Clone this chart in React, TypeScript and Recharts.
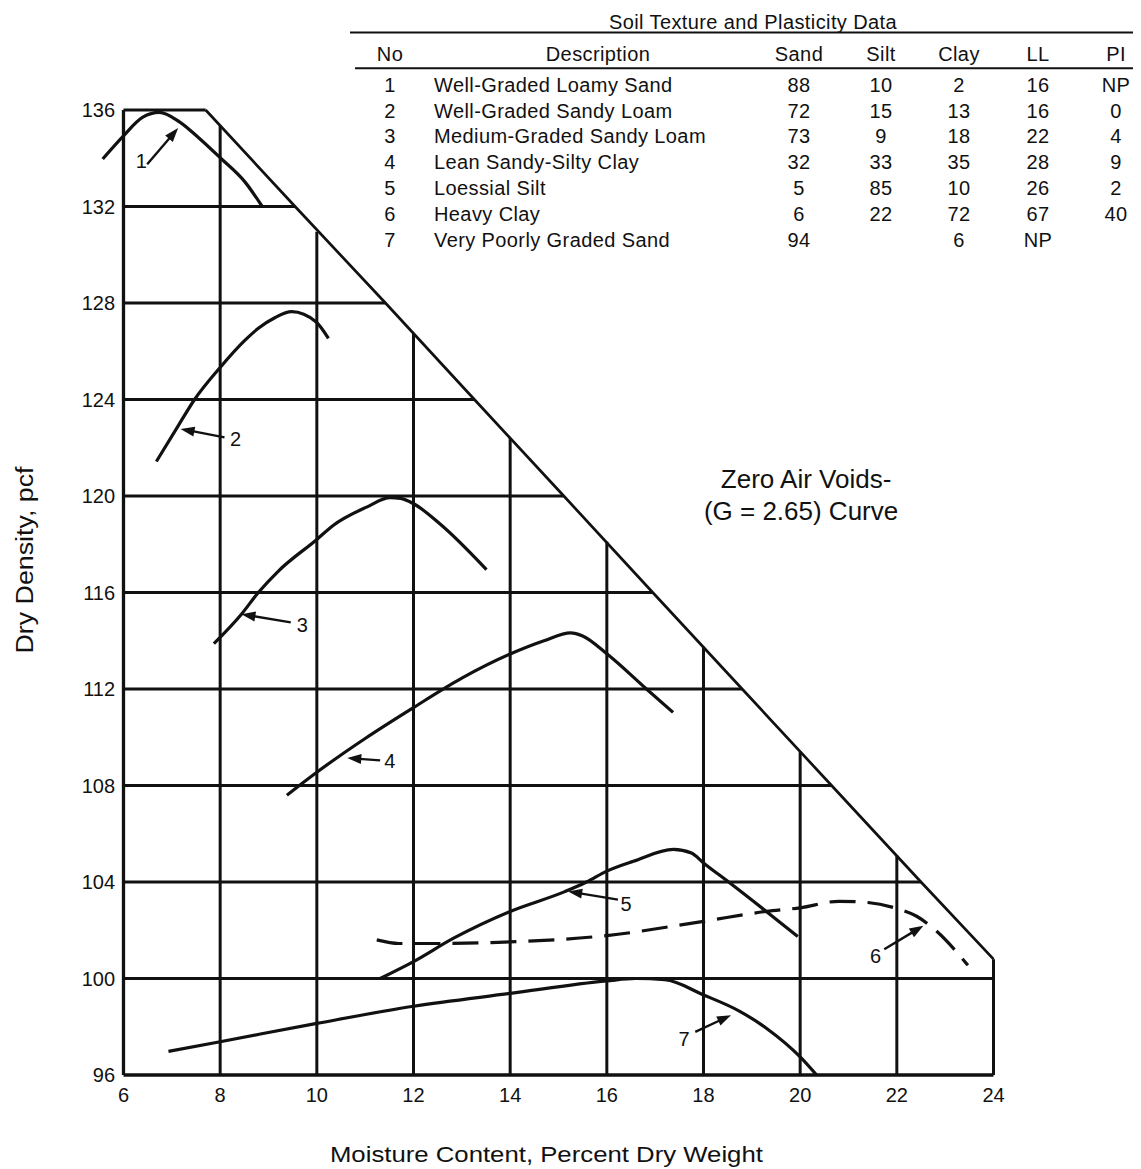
import React from 'react';
import { LineChart, Line, XAxis, YAxis, ReferenceLine, ReferenceDot } from 'recharts';

const FONT = '"Liberation Sans", Arial, Helvetica, sans-serif';
const INK = '#111111';

// ---- axes ----
const moistureTicks = [6, 8, 10, 12, 14, 16, 18, 20, 22, 24];
const densityTicks = [96, 100, 104, 108, 112, 116, 120, 124, 128, 132, 136];

// ---- grid (truncated at the zero-air-voids line) ----
const hGridLevels = [136, 132, 128, 124, 120, 116, 112, 108, 104, 100, 96];
const hGridEnds = [7.7, 9.55, 11.42, 13.26, 15.11, 16.95, 18.8, 20.65, 22.5, 24, 24];
const vGridLevels = [6, 8, 10, 12, 14, 16, 18, 20, 22, 24];
const vGridTops = [136, 135.35, 130.95, 126.75, 122.4, 118.1, 113.75, 109.4, 105.1, 100.8];

// ---- zero air voids line ----
const zavMoisture = [7.7, 9.55, 11.42, 13.26, 15.11, 16.95, 18.8, 20.65, 22.5, 24];
const zavDensity = [136, 132, 128, 124, 120, 116, 112, 108, 104, 100.8];

// ---- compaction curves ----
const c1Moisture = [5.57, 6.0, 6.4, 6.74, 7.15, 7.56, 8.0, 8.52, 8.87];
const c1Density = [133.97, 134.93, 135.7, 135.9, 135.52, 134.84, 134.02, 133.0, 132.0];
const c2Moisture = [6.68, 7.15, 7.47, 8.0, 8.51, 8.79, 9.13, 9.48, 9.98, 10.24];
const c2Density = [121.43, 122.97, 124.0, 125.33, 126.45, 126.95, 127.39, 127.64, 127.22, 126.53];
const c3Moisture = [7.87, 8.44, 8.79, 9.2, 10.0, 10.33, 11.03, 11.52, 11.73, 12.0, 12.55, 13.51];
const c3Density = [113.88, 115.1, 116.0, 116.88, 118.2, 118.77, 119.54, 119.93, 119.9, 119.68, 118.84, 116.95];
const c4Moisture = [9.38, 10.0, 11.0, 12.0, 13.0, 14.0, 14.7, 15.25, 15.5, 16.0, 16.82, 17.37];
const c4Density = [107.6, 108.55, 109.95, 111.23, 112.45, 113.45, 114.0, 114.33, 114.2, 113.46, 112.0, 111.03];
const c5Moisture = [11.31, 12.0, 12.83, 14.0, 15.13, 15.58, 16.0, 16.55, 17.38, 17.75, 18.0, 18.52, 19.3, 19.95];
const c5Density = [100.0, 100.7, 101.67, 102.78, 103.6, 104.0, 104.45, 104.86, 105.35, 105.2, 104.79, 104.0, 102.78, 101.74];
const c6Moisture = [11.24, 11.7, 12.5, 13.75, 16.0, 18.0, 19.3, 20.0, 20.8, 21.4, 22.0, 22.41, 22.8, 23.47];
const c6Density = [101.6, 101.45, 101.45, 101.5, 101.78, 102.37, 102.78, 102.93, 103.2, 103.15, 102.9, 102.58, 102.0, 100.55];
const c7Moisture = [6.93, 8.0, 10.0, 12.0, 14.0, 16.0, 16.6, 17.2, 18.0, 18.76, 19.3, 20.0, 20.34];
const c7Density = [96.98, 97.38, 98.14, 98.85, 99.38, 99.9, 100.0, 99.95, 99.32, 98.63, 97.94, 96.75, 96.0];

// ---- curve labels and arrows ----
const curveLabels = ['1', '2', '3', '4', '5', '6', '7'];
const labelMoisture = [6.37, 8.32, 9.7, 11.51, 16.4, 21.56, 17.6];
const labelDensity = [133.88, 122.38, 114.64, 109.0, 103.1, 100.93, 97.51];
const arrowTailMoisture = [6.49, 8.09, 9.46, 11.31, 16.23, 21.74, 17.83];
const arrowTailDensity = [133.75, 122.43, 114.76, 109.04, 103.27, 101.21, 97.79];
const arrowHeadMoisture = [7.13, 7.18, 8.44, 10.63, 15.2, 22.55, 18.57];
const arrowHeadDensity = [135.25, 122.78, 115.1, 109.14, 103.61, 102.19, 98.48];

// ---- soil data table ----
const tableHeaders = ['No', 'Description', 'Sand', 'Silt', 'Clay', 'LL', 'PI'];
const tableNo = ['1', '2', '3', '4', '5', '6', '7'];
const tableDescription = [
  'Well-Graded Loamy Sand',
  'Well-Graded Sandy Loam',
  'Medium-Graded Sandy Loam',
  'Lean Sandy-Silty Clay',
  'Loessial Silt',
  'Heavy Clay',
  'Very Poorly Graded Sand',
];
const tableSand = ['88', '72', '73', '32', '5', '6', '94'];
const tableSilt = ['10', '15', '9', '33', '85', '22', ''];
const tableClay = ['2', '13', '18', '35', '10', '72', '6'];
const tableLL = ['16', '16', '22', '28', '26', '67', 'NP'];
const tablePI = ['NP', '0', '4', '9', '2', '40', ''];

const zip = (xs: number[], ys: number[]) => xs.map((x, i) => ({ x, y: ys[i] }));

const curves = [
  { key: 'c1', data: zip(c1Moisture, c1Density), dashed: false },
  { key: 'c2', data: zip(c2Moisture, c2Density), dashed: false },
  { key: 'c3', data: zip(c3Moisture, c3Density), dashed: false },
  { key: 'c4', data: zip(c4Moisture, c4Density), dashed: false },
  { key: 'c5', data: zip(c5Moisture, c5Density), dashed: false },
  { key: 'c6', data: zip(c6Moisture, c6Density), dashed: true },
  { key: 'c7', data: zip(c7Moisture, c7Density), dashed: false },
];
const zavData = zip(zavMoisture, zavDensity);

const W = 1133;
const H = 1161;

const XTick = (props: any) => {
  const { x, y, payload } = props;
  return (
    <text x={x} y={y + 20} dy="0.35em" textAnchor="middle" fontSize={20} fontFamily={FONT} fill={INK}>
      {payload.value}
    </text>
  );
};

const YTick = (props: any) => {
  const { x, y, payload } = props;
  return (
    <text x={x + 15.7} y={y} dy="0.35em" textAnchor="end" fontSize={20} fontFamily={FONT} fill={INK}>
      {payload.value}
    </text>
  );
};

const arrowShape = (props: any) => {
  const { x1, y1, x2, y2 } = props;
  const dx = x2 - x1;
  const dy = y2 - y1;
  const len = Math.hypot(dx, dy) || 1;
  const ux = dx / len;
  const uy = dy / len;
  const hl = 14;
  const hw = 5;
  const bx = x2 - ux * hl;
  const by = y2 - uy * hl;
  return (
    <g>
      <line x1={x1} y1={y1} x2={bx + ux * 2} y2={by + uy * 2} stroke={INK} strokeWidth={2.4} />
      <polygon
        points={`${x2},${y2} ${bx - uy * hw},${by + ux * hw} ${bx + uy * hw},${by - ux * hw}`}
        fill={INK}
      />
    </g>
  );
};

const numberShape = (text: string) => (props: any) => (
  <text x={props.cx} y={props.cy} dy="0.35em" textAnchor="middle" fontSize={20} fontFamily={FONT} fill={INK}>
    {text}
  </text>
);

const zavLabelShape = (props: any) => (
  <g fontFamily={FONT} fontSize={26} fill={INK}>
    <text x={props.cx + 3} y={props.cy - 15.7} textAnchor="middle">Zero Air Voids-</text>
    <text x={props.cx - 2} y={props.cy + 16} textAnchor="middle">(G = 2.65) Curve</text>
  </g>
);

const XTitle = (props: any) => {
  const vb = props.viewBox || { x: 0, y: 0, width: 0, height: 0 };
  return (
    <text
      x={vb.x + vb.width / 2}
      y={vb.y + 87}
      textAnchor="middle"
      fontSize={22}
      fontFamily={FONT}
      fill={INK}
      textLength={433}
      lengthAdjust="spacingAndGlyphs"
    >
      Moisture Content, Percent Dry Weight
    </text>
  );
};

const YTitle = () => (
  <text
    x={25}
    y={552}
    transform="rotate(-90 25 552)"
    textAnchor="middle"
    fontSize={23}
    fontFamily={FONT}
    fill={INK}
    textLength={187}
    lengthAdjust="spacingAndGlyphs"
  >
    Dry Density, pcf
  </text>
);

const colNo = 382;
const colDescHeader = 590;
const colDescLeft = 426;
const colSand = 791;
const colSilt = 873;
const colClay = 951;
const colLL = 1030;
const colPI = 1108;
const rowBase0 = 83.7;
const rowStep = 25.85;

const DataTable = () => {
  const cell = { fontSize: 20, fontFamily: FONT, fill: INK, letterSpacing: 0.4 } as any;
  const headerX = [colNo, colDescHeader, colSand, colSilt, colClay, colLL, colPI];
  return (
    <svg width={W} height={260} style={{ position: 'absolute', left: 0, top: 0, pointerEvents: 'none' }}>
      <text x={745} y={21} textAnchor="middle" {...cell}>
        Soil Texture and Plasticity Data
      </text>
      <line x1={342} y1={24.5} x2={W} y2={24.5} stroke={INK} strokeWidth={2} />
      {tableHeaders.map((h, i) => (
        <text key={h} x={headerX[i]} y={52.5} textAnchor="middle" {...cell}>
          {h}
        </text>
      ))}
      <line x1={347} y1={60.3} x2={W} y2={60.3} stroke={INK} strokeWidth={2} />
      {tableNo.map((n, i) => {
        const y = rowBase0 + rowStep * i;
        return (
          <g key={n}>
            <text x={colNo} y={y} textAnchor="middle" {...cell}>{n}</text>
            <text x={colDescLeft} y={y} textAnchor="start" {...cell}>{tableDescription[i]}</text>
            <text x={colSand} y={y} textAnchor="middle" {...cell}>{tableSand[i]}</text>
            <text x={colSilt} y={y} textAnchor="middle" {...cell}>{tableSilt[i]}</text>
            <text x={colClay} y={y} textAnchor="middle" {...cell}>{tableClay[i]}</text>
            <text x={colLL} y={y} textAnchor="middle" {...cell}>{tableLL[i]}</text>
            <text x={colPI} y={y} textAnchor="middle" {...cell}>{tablePI[i]}</text>
          </g>
        );
      })}
    </svg>
  );
};

export default function App() {
  return (
    <div style={{ position: 'relative', width: W, height: H, background: '#fff' }}>
      <style>{'html,body{overflow:hidden;background:#fff}'}</style>
      <LineChart width={W} height={H} margin={{ top: 102, right: 147.5, bottom: 54, left: 51.33 }}>
        <XAxis
          type="number"
          dataKey="x"
          domain={[5.5, 24]}
          ticks={moistureTicks}
          interval={0}
          axisLine={false}
          tickLine={false}
          tickSize={0}
          tickMargin={0}
          height={40}
          tick={<XTick />}
          label={{ content: <XTitle /> }}
        />
        <YAxis
          type="number"
          dataKey="y"
          domain={[96, 136]}
          ticks={densityTicks}
          interval={0}
          axisLine={false}
          tickLine={false}
          tickSize={0}
          tickMargin={0}
          width={40}
          tick={<YTick />}
          label={{ content: <YTitle /> }}
        />
        {hGridLevels.map((lvl, i) => (
          <ReferenceLine
            key={`h${lvl}`}
            segment={[{ x: 6, y: lvl }, { x: hGridEnds[i], y: lvl }]}
            stroke={INK}
            strokeWidth={lvl === 96 ? 3.5 : 3}
          />
        ))}
        {vGridLevels.map((lvl, i) => (
          <ReferenceLine
            key={`v${lvl}`}
            segment={[{ x: lvl, y: 96 }, { x: lvl, y: vGridTops[i] }]}
            stroke={INK}
            strokeWidth={lvl === 6 ? 3.3 : 3}
          />
        ))}
        <Line
          data={zavData}
          dataKey="y"
          type="linear"
          stroke={INK}
          strokeWidth={2.7}
          dot={false}
          activeDot={false}
          isAnimationActive={false}
        />
        {curves.map((c) => (
          <Line
            key={c.key}
            data={c.data}
            dataKey="y"
            type="monotone"
            stroke={INK}
            strokeWidth={3.2}
            strokeDasharray={c.dashed ? '26 12' : undefined}
            strokeLinejoin="round"
            dot={false}
            activeDot={false}
            isAnimationActive={false}
          />
        ))}
        {curveLabels.map((lab, i) => (
          <ReferenceLine
            key={`a${lab}`}
            segment={[
              { x: arrowTailMoisture[i], y: arrowTailDensity[i] },
              { x: arrowHeadMoisture[i], y: arrowHeadDensity[i] },
            ]}
            shape={arrowShape}
          />
        ))}
        {curveLabels.map((lab, i) => (
          <ReferenceDot key={`l${lab}`} x={labelMoisture[i]} y={labelDensity[i]} r={0} shape={numberShape(lab)} />
        ))}
        <ReferenceDot x={20.06} y={119.67} r={0} shape={zavLabelShape} />
      </LineChart>
      <DataTable />
    </div>
  );
}
